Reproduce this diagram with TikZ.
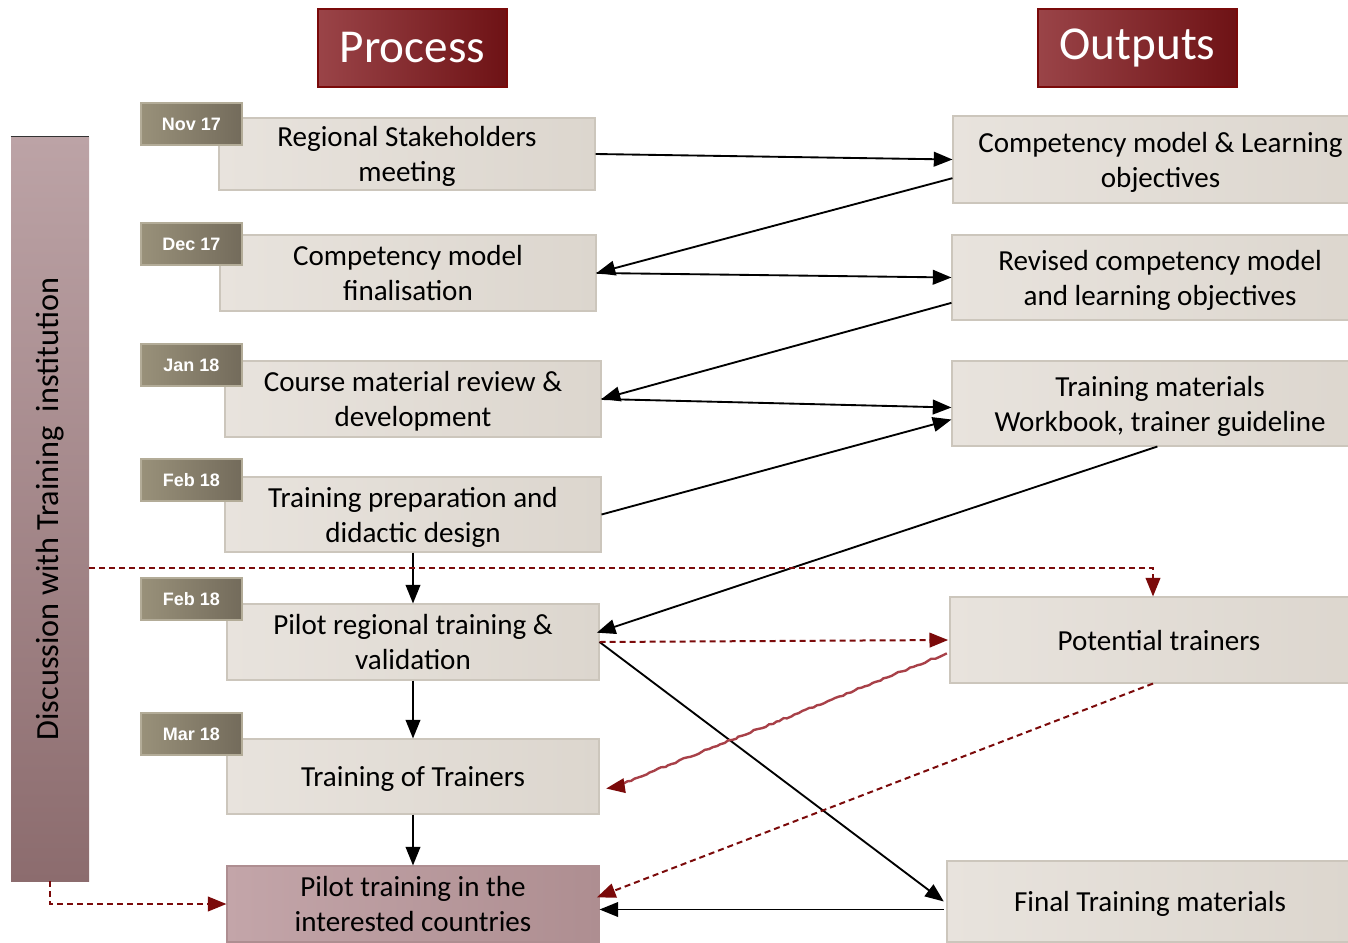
\documentclass[tikz,border=0pt]{standalone}
\usepackage{fontspec}
\setmainfont{Carlito}
\newfontfamily\datefont{Liberation Sans}
\usetikzlibrary{arrows.meta,decorations.pathmorphing}
\definecolor{hdrL}{HTML}{9A4448}
\definecolor{hdrR}{HTML}{6E1215}
\definecolor{hdrB}{HTML}{7A0A0A}
\definecolor{barT}{HTML}{BCA3A6}
\definecolor{barB}{HTML}{8C6C6E}
\definecolor{tagL}{HTML}{99917A}
\definecolor{tagR}{HTML}{736B5B}
\definecolor{tagB}{HTML}{B3AC98}
\definecolor{boxL}{HTML}{E8E3DD}
\definecolor{boxR}{HTML}{DCD6CE}
\definecolor{boxB}{HTML}{CCC6BC}
\definecolor{mauL}{HTML}{C3A5A9}
\definecolor{mauR}{HTML}{AE8E91}
\definecolor{dred}{HTML}{7B0A0A}
\definecolor{wred}{HTML}{A84048}
\tikzset{
  sz/.style 2 args={minimum width={#1*0.75pt}, minimum height={#2*0.75pt}, inner sep=0pt},
  hdr/.style={draw=hdrB, line width=1pt, left color=hdrL, right color=hdrR,
    text=white, font=\fontsize{35.4}{40}\selectfont},
  sidebar/.style={draw=none, top color=barT, bottom color=barB},
  tag/.style={draw=tagB, line width=0.8pt, left color=tagL, right color=tagR,
    text=white, font=\datefont\bfseries\fontsize{13.5}{15}\selectfont},
  pbox/.style={draw=boxB, line width=0.8pt, left color=boxL, right color=boxR,
    align=center, font=\fontsize{21.8}{26.3}\selectfont, text depth=0pt},
  mbox/.style={pbox, left color=mauL, right color=mauR, draw=mauR},
  tip/.style={-{Triangle[length=14pt,width=11pt]}},
  conn/.style={line width=1.4pt, tip},
  dconn/.style={dred, line width=1.5pt, dash pattern=on 4.5pt off 3pt, tip},
  wconn/.style={wred, line width=1.8pt, decorate, decoration={random steps, segment length=3pt, amplitude=0.6pt}},
}
\begin{document}
\begin{tikzpicture}[x=0.75pt,y=-0.75pt]
\useasboundingbox (0,0) rectangle (1348,942);
% headers
\node[hdr, sz={189}{78}] (hproc) at (412.5,48) {Process};
\node[hdr, sz={199}{78}] (hout) at (1137.5,48) {Outputs};
% side bar
\node[sidebar, sz={78}{744}] (bar) at (50,509) {};
\draw[line width=1pt, black!80] (bar.north west) -- (bar.north east);
\node[rotate=90, font=\fontsize{24.2}{29}\selectfont] (bartext) at (bar.center) {Discussion with Training\ \ institution};
% process boxes
\node[pbox, sz={376}{72}] (p1) at (407,154) {Regional Stakeholders\\meeting};
\node[pbox, sz={376}{76}] (p2) at (408,273) {Competency model\\finalisation};
\node[pbox, sz={376}{76}] (p3) at (413,399) {Course material review \&\\development};
\node[pbox, sz={376}{75}] (p4) at (413,514.5) {Training preparation and\\didactic design};
\node[pbox, sz={372}{76}] (p5) at (413,642) {Pilot regional training \&\\validation};
\node[pbox, sz={372}{75}] (p6) at (413,776.5) {Training of Trainers};
\node[mbox, sz={372}{76}] (p7) at (413,904) {Pilot training in the\\interested countries};
% date tags
\node[tag, sz={101}{42}] (t1) at (191.5,124) {Nov 17};
\node[tag, sz={101}{42}] (t2) at (191.5,244) {Dec 17};
\node[tag, sz={101}{42}] (t3) at (191.5,365) {Jan 18};
\node[tag, sz={101}{42}] (t4) at (191.5,480) {Feb 18};
\node[tag, sz={101}{42}] (t5) at (191.5,599) {Feb 18};
\node[tag, sz={101}{42}] (t6) at (191.5,734) {Mar 18};
% output boxes
\node[pbox, sz={415}{87}] (o1) at (1160.5,159.5) {Competency model \& Learning\\objectives};
\node[pbox, sz={416}{85}] (o2) at (1160,277.5) {Revised competency model\\and learning objectives};
\node[pbox, sz={416}{85}] (o3) at (1160,403.5) {Training materials\\Workbook, trainer guideline};
\node[pbox, sz={418}{86}] (o4) at (1159,640) {Potential trainers};
\node[pbox, sz={406}{81}] (o5) at (1150,901.5) {Final Training materials};
% black connectors
\draw[conn] (p1.east) -- (o1.west);
\draw[conn] ([yshift=-14pt]o1.west) -- (p2.east);
\draw[conn] (p2.east) -- (o2.west);
\draw[conn] ([yshift=-19pt]o2.west) -- (p3.east);
\draw[conn] (p3.east) -- ([yshift=-3pt]o3.west);
\draw[conn] (p4.east) -- ([yshift=-12pt]o3.west);
\draw[conn] ([xshift=-2pt]o3.south) -- ([yshift=7pt,xshift=-2pt]p5.east);
\draw[conn] (p4.south) -- (p5.north);
\draw[conn] (p5.south) -- (p6.north);
\draw[conn] (p6.south) -- (p7.north);
\draw[conn] (p5.east) -- ([xshift=-2pt]o5.west);
\coordinate (o5l) at ([yshift=-6pt,xshift=-2pt]o5.west);
\draw[conn] (o5l) -- (p7.east |- o5l);
% dashed red connectors
\coordinate (dl) at (0,568);
\coordinate (o4t) at ([xshift=-4.5pt]o4.north);
\draw[dconn] (bar.east |- dl) -- (o4t |- dl) -- (o4t);
\draw[dconn] (p5.east) -- ([xshift=-1pt]o4.west);
\draw[dconn] ([xshift=-4.5pt]o4.south) -- ([yshift=5pt,xshift=-2pt]p7.east);
\draw[dconn] (bar.south) |- (p7.west);
% wavy red connector
\draw[wconn] ([yshift=-10pt,xshift=-2pt]o4.west) -- ([yshift=-8.2pt,xshift=10pt]p6.east);
\draw[dred, line width=1pt, tip] ([yshift=-7.6pt,xshift=14pt]p6.east) -- ([yshift=-9pt,xshift=5pt]p6.east);
\end{tikzpicture}
\end{document}
